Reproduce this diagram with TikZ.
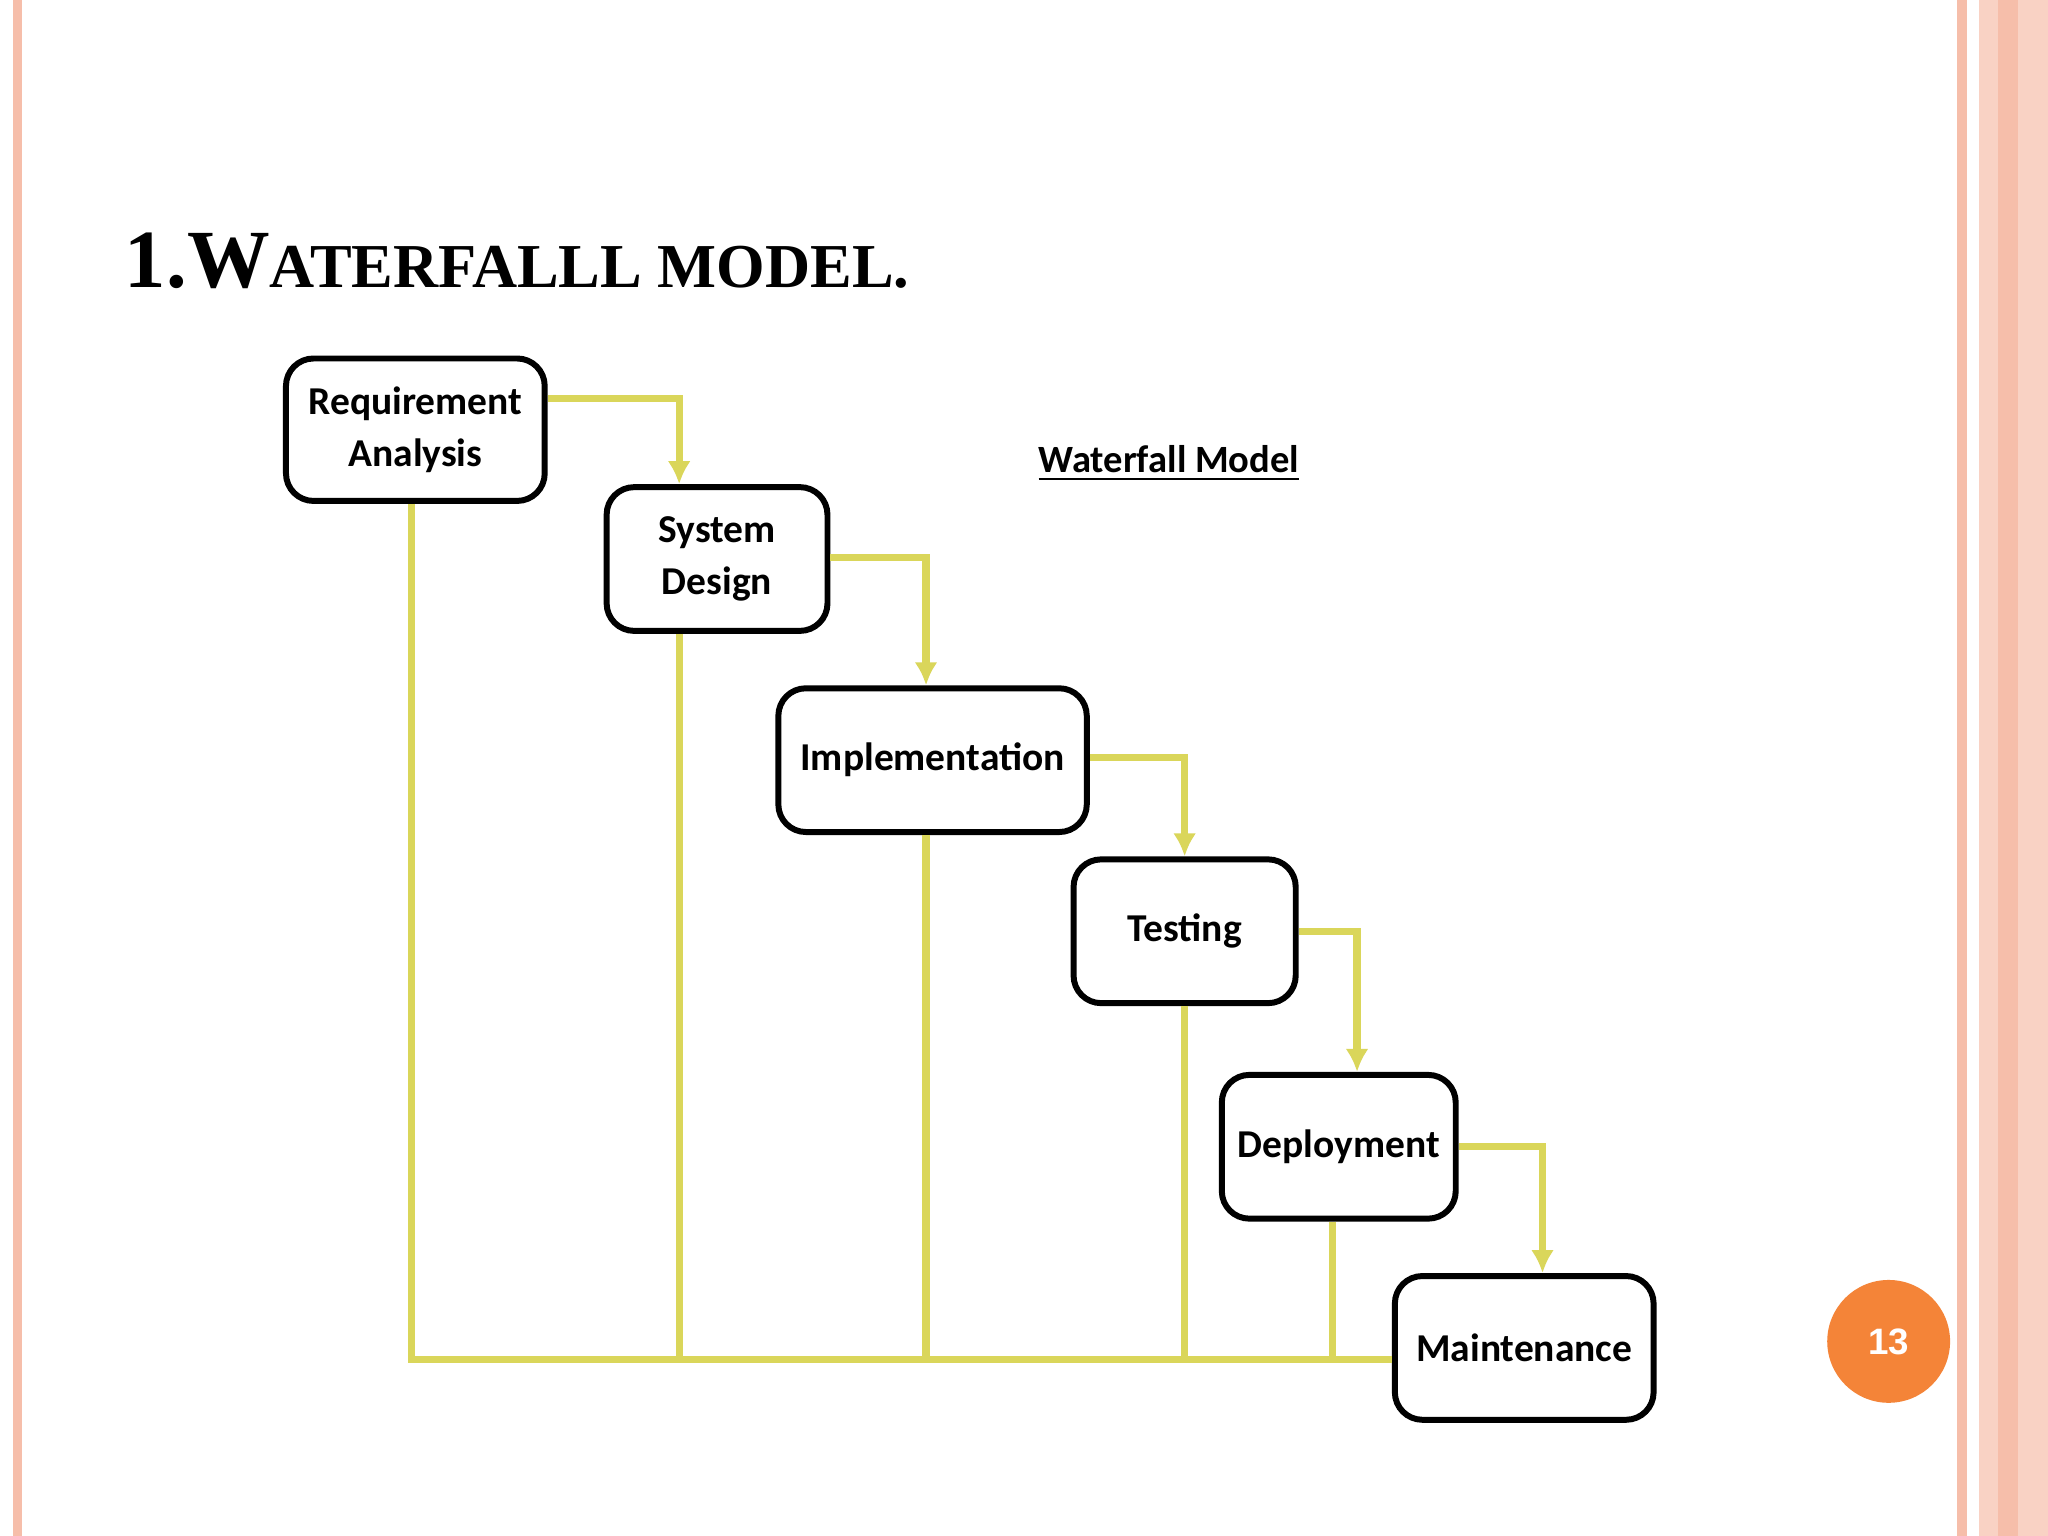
\documentclass[tikz,border=0pt]{standalone}
\usepackage{fontspec}
\setmainfont{Carlito}
\newfontfamily\titlefont{Liberation Serif}
\newfontfamily\badgefont{Liberation Sans}
\usetikzlibrary{arrows.meta}
\definecolor{flowyellow}{RGB}{218,214,90}
\definecolor{edgepink}{RGB}{246,190,170}
\definecolor{badge}{RGB}{244,132,56}
\tikzset{
  phase/.style={draw=black, line width=1.3pt, rounded corners=6pt, fill=white,
    align=center, inner sep=0pt, font=\fontsize{8.6}{11.4}\selectfont\bfseries},
  flow/.style={draw=flowyellow, line width=1.6pt, -{Latex[length=5pt,width=5pt]}},
  back/.style={draw=flowyellow, line width=1.6pt}
}
\begin{document}
\begin{tikzpicture}[x=0.01cm, y=-0.01cm]
    % Page and borders
    \useasboundingbox (0,0) rectangle (1568,1176);
    \fill[white] (0,0) rectangle (1568,1176);
    \fill[edgepink] (10,0) rectangle (17,1176);
    \fill[edgepink] (1498,0) rectangle (1506,1176);
    \fill[edgepink!70] (1515,0) rectangle (1568,1176);
    \fill[edgepink] (1530,0) rectangle (1545,1176);

    % Title
    \node[anchor=base west, inner sep=0pt] (title) at (95,220)
      {\titlefont\bfseries\fontsize{18}{22}\selectfont 1.W\fontsize{13.6}{18}\selectfont ATERFALLL MODEL.};
    \node[font=\fontsize{8.4}{10}\selectfont\bfseries] (caption) at (895,355) {\underline{Waterfall Model}};

    % Phases
    \node[phase, minimum width=1.98cm, minimum height=1.09cm] (req) at (318,329) {Requirement\\Analysis};
    \node[phase, minimum width=1.69cm, minimum height=1.10cm] (sys) at (549,428) {System\\Design};
    \node[phase, minimum width=2.36cm, minimum height=1.10cm] (impl) at (714,582) {Implementation};
    \node[phase, minimum width=1.70cm, minimum height=1.10cm] (test) at (907,713) {Testing};
    \node[phase, minimum width=1.79cm, minimum height=1.10cm] (dep) at (1025,878) {Deployment};
    \node[phase, minimum width=1.98cm, minimum height=1.10cm] (maint) at (1167,1032) {Maintenance};

    % Forward flow
    \draw[flow] (req.east |- 0,305) -| (sys.north -| 520,0);
    \draw[flow] (sys.east |- 0,427) -| (impl.north -| 709,0);
    \draw[flow] (impl.east |- 0,580) -| (test.north);
    \draw[flow] (test.east) -| (dep.north -| 1039,0);
    \draw[flow] (dep.east) -| (maint.north -| 1181,0);

    % Feedback lines to maintenance
    \coordinate (base) at (315,1041);
    \draw[back] (req.south -| 315,0) -- (base) -- (maint.west |- base);
    \draw[back] (sys.south -| 520,0) -- (520,1041);
    \draw[back] (impl.south -| 709,0) -- (709,1041);
    \draw[back] (test.south) -- (907,1041);
    \draw[back] (dep.south -| 1020,0) -- (1020,1041);

    % Page number
    \node[circle, fill=badge, minimum size=0.94cm, inner sep=0pt, text=white,
      font=\badgefont\fontsize{8}{10}\selectfont\bfseries] (page) at (1446,1027) {13};
\end{tikzpicture}
\end{document}
